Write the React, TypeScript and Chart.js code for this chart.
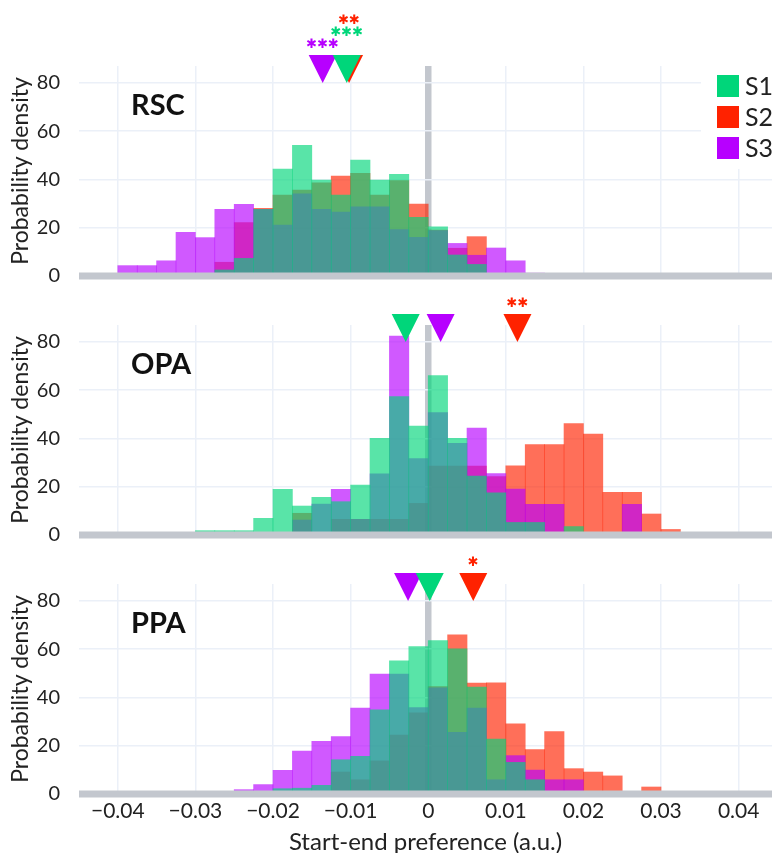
import React, { useEffect, useRef } from 'react';
import { Chart, registerables } from 'chart.js';

Chart.register(...registerables);

// Histogram bins: centres of 0.0025-wide bins from -0.04 to 0.04
const BIN_CENTERS = [
  -0.03875, -0.03625, -0.03375, -0.03125, -0.02875, -0.02625, -0.02375, -0.02125,
  -0.01875, -0.01625, -0.01375, -0.01125, -0.00875, -0.00625, -0.00375, -0.00125,
  0.00125, 0.00375, 0.00625, 0.00875, 0.01125, 0.01375, 0.01625, 0.01875,
  0.02125, 0.02375, 0.02625, 0.02875, 0.03125, 0.03375, 0.03625, 0.03875,
];

const SERIES = ['S1', 'S2', 'S3'];

// RSC
const RSC_S1 = [0, 0, 0, 0, 0, 2.5, 7.3, 27.6, 44.3, 54.1, 39.7, 33.5, 48.0, 39.7, 42.1, 24.3, 20.4, 8.7, 4.8, 0, 0, 0, 0, 0, 0, 0, 0, 0, 0, 0, 0, 0];
const RSC_S2 = [0, 0, 0, 0, 0, 5.7, 22.1, 28.0, 33.5, 35.6, 38.6, 41.4, 42.5, 33.5, 39.5, 29.8, 19.0, 11.5, 16.3, 0, 0, 0, 0, 0, 0, 0, 0, 0, 0, 0, 0, 0];
const RSC_S3 = [4.3, 4.3, 6.3, 18.1, 15.9, 27.6, 29.7, 27.6, 21.1, 34.0, 27.6, 26.5, 28.7, 28.7, 19.2, 16.0, 18.8, 13.5, 8.6, 11.6, 6.3, 1.2, 0, 0, 0, 0, 0, 0, 0, 0, 0, 0];
const RSC_MEANS = [-0.0105, -0.0102, -0.0136];
const RSC_STARS = [3, 2, 3];

// OPA
const OPA_S1 = [0, 0, 0, 0, 1.8, 1.8, 1.8, 6.9, 18.9, 12.0, 15.6, 13.8, 20.7, 40.0, 57.3, 45.1, 66.0, 40.0, 24.4, 17.5, 5.2, 5.2, 0, 3.5, 0, 0, 0, 0, 0, 0, 0, 0];
const OPA_S2 = [0, 0, 0, 0, 0, 0, 0, 0, 0, 9.0, 0, 6.5, 6.5, 6.5, 6.5, 13.1, 28.6, 28.6, 28.6, 24.2, 28.7, 37.5, 37.5, 46.2, 41.8, 17.7, 17.7, 8.7, 2.3, 0, 0, 0];
const OPA_S3 = [0, 0, 0, 0, 0, 0, 0, 0, 0, 6.2, 12.8, 18.9, 6.5, 25.3, 82.4, 31.7, 50.7, 38.0, 44.3, 25.4, 19.0, 12.7, 12.7, 0, 0, 0, 12.7, 0, 0, 0, 0, 0];
const OPA_MEANS = [-0.0029, 0.0115, 0.0016];
const OPA_STARS = [0, 2, 0];

// PPA
const PPA_S1 = [0, 0, 0, 0, 0, 0, 0, 0, 2.2, 2.4, 3.6, 14.2, 15.6, 34.9, 55.2, 61.1, 63.6, 60.1, 44.3, 22.8, 13.1, 5.9, 0, 0, 0, 0, 0, 0, 0, 0, 0, 0];
const PPA_S2 = [0, 0, 0, 0, 0, 0, 0, 0, 0, 0, 1.0, 9.1, 5.9, 13.7, 24.4, 33.6, 44.5, 65.9, 46.0, 46.1, 29.1, 18.4, 25.9, 10.5, 9.1, 7.5, 0.5, 2.9, 0, 0, 0, 0];
const PPA_S3 = [0, 0, 0, 0, 0, 0, 1.8, 3.9, 9.8, 17.8, 21.8, 23.8, 35.6, 49.7, 49.7, 35.8, 44.0, 25.6, 35.6, 5.9, 15.9, 9.9, 5.9, 5.9, 0, 0, 0, 0, 0, 0, 0, 0];
const PPA_MEANS = [0.0002, 0.0058, -0.0026];
const PPA_STARS = [0, 1, 0];

const X_TICKS_STEP = 0.01;
const Y_TICKS = [0, 20, 40, 60, 80];
const MARKER_TIP = 80;

const SOLID = ['rgb(0, 214, 122)', 'rgb(255, 34, 0)', 'rgb(183, 0, 255)'];
const FILL = ['rgba(0, 214, 122, 0.65)', 'rgba(255, 34, 0, 0.65)', 'rgba(183, 0, 255, 0.65)'];
// lower order is painted last: S1 on top, S3 in the middle, S2 underneath
const DRAW_ORDER = [0, 2, 1];

const GRID = '#ebf0f8';
const AXIS_GRAY = '#c3c7ce';
const TEXT = '#222';
const FONT = 'Lato, "Open Sans", sans-serif';

type PanelProps = {
  name: string;
  values: number[][];
  means: number[];
  stars: number[];
  top: number;
  height: number;
  padTop: number;
  padBottom: number;
  xAxis: boolean;
  legend: boolean;
};

function fmtX(v: number): string {
  if (Math.abs(v) < 1e-9) return '0';
  return (v < 0 ? '\u2212' : '') + Math.abs(v).toFixed(2);
}

function Panel(p: PanelProps) {
  const ref = useRef<HTMLCanvasElement | null>(null);

  useEffect(() => {
    const canvas = ref.current;
    if (!canvas) return;

    const overlay = {
      id: 'overlay',
      afterDatasetsDraw(chart: any) {
        const { ctx, chartArea: a, scales } = chart;
        const y0 = scales.y.getPixelForValue(0);
        ctx.save();
        ctx.strokeStyle = AXIS_GRAY;
        ctx.lineWidth = 7;
        ctx.beginPath();
        ctx.moveTo(a.left, y0);
        ctx.lineTo(a.right, y0);
        ctx.stroke();
        ctx.restore();
      },
      afterDraw(chart: any) {
        const { ctx, chartArea: a, scales } = chart;
        const xs = scales.x;
        const ys = scales.y;
        ctx.save();

        // panel name
        ctx.fillStyle = '#111';
        ctx.font = `bold 29px ${FONT}`;
        ctx.textAlign = 'left';
        ctx.textBaseline = 'alphabetic';
        ctx.fillText(p.name, a.left + 52, a.top + 49);

        // mean markers (downward triangles)
        const tipY = ys.getPixelForValue(MARKER_TIP);
        const paint = [0, 1, 2].sort((i, j) => DRAW_ORDER[j] - DRAW_ORDER[i]);
        for (const k of paint) {
          const x = xs.getPixelForValue(p.means[k]);
          ctx.fillStyle = SOLID[k];
          ctx.beginPath();
          ctx.moveTo(x, tipY);
          ctx.lineTo(x - 14, tipY - 28);
          ctx.lineTo(x + 14, tipY - 28);
          ctx.closePath();
          ctx.fill();
        }

        // significance stars, stacked when they would collide
        const byX = [0, 1, 2].sort((i, j) => p.means[i] - p.means[j]);
        let prevRight = -Infinity;
        let prevLevel = -1;
        ctx.font = `13px "DejaVu Sans", sans-serif`;
        ctx.textAlign = 'center';
        ctx.textBaseline = 'middle';
        for (const k of byX) {
          const n = p.stars[k];
          if (!n) continue;
          const x = xs.getPixelForValue(p.means[k]);
          const w = n * 11;
          const level = x - w / 2 < prevRight ? prevLevel + 1 : 0;
          prevRight = x + w / 2;
          prevLevel = level;
          ctx.fillStyle = SOLID[k];
          ctx.fillText('\u2731'.repeat(n), x, tipY - 38 - level * 12);
        }

        // legend
        if (p.legend) {
          const lx = a.right - 71;
          ctx.fillStyle = '#ffffff';
          ctx.fillRect(lx, a.top, chart.width - lx, 103);
          ctx.font = `25px ${FONT}`;
          ctx.textAlign = 'left';
          ctx.textBaseline = 'middle';
          for (let k = 0; k < 3; k++) {
            const sy = a.top + 9 + 31 * k;
            ctx.fillStyle = SOLID[k];
            ctx.fillRect(lx + 16, sy, 22, 22);
            ctx.fillStyle = TEXT;
            ctx.fillText(SERIES[k], lx + 44, sy + 12);
          }
        }
        ctx.restore();
      },
    };

    const chart = new Chart(canvas, {
      type: 'bar',
      data: {
        datasets: [0, 1, 2].map((k) => ({
          label: SERIES[k],
          data: BIN_CENTERS.map((x, i) => ({ x, y: p.values[k][i] })),
          backgroundColor: FILL[k],
          borderWidth: 0,
          grouped: false,
          barPercentage: 1,
          categoryPercentage: 1,
          order: DRAW_ORDER[k],
        })),
      } as any,
      options: {
        animation: false,
        responsive: false,
        maintainAspectRatio: false,
        events: [],
        layout: { padding: { top: p.padTop, bottom: p.padBottom, left: 0, right: 0 } },
        plugins: { legend: { display: false }, tooltip: { enabled: false } },
        scales: {
          x: {
            type: 'linear',
            min: -0.045,
            max: 0.0443,
            offset: false,
            border: { display: false },
            grid: {
              offset: false,
              drawTicks: false,
              color: (c: any) => (Math.abs(c.tick?.value ?? 1) < 1e-9 ? AXIS_GRAY : GRID),
              lineWidth: (c: any) => (Math.abs(c.tick?.value ?? 1) < 1e-9 ? 6.5 : 1.5),
            },
            ticks: {
              display: p.xAxis,
              stepSize: X_TICKS_STEP,
              includeBounds: false,
              autoSkip: false,
              maxRotation: 0,
              padding: 5,
              color: TEXT,
              font: { family: FONT, size: 21 },
              callback: (v: any) => fmtX(Number(v)),
            },
            title: {
              display: p.xAxis,
              text: 'Start-end preference (a.u.)',
              color: TEXT,
              font: { family: FONT, size: 24 },
              padding: { top: 0, bottom: 0 },
            },
            afterFit: (s: any) => {
              s.height = p.xAxis ? 63 : 0;
            },
          },
          y: {
            min: 0,
            max: 87,
            border: { display: false },
            grid: {
              drawTicks: false,
              color: (c: any) => (c.tick?.value === 0 ? 'rgba(0,0,0,0)' : GRID),
              lineWidth: 1.5,
            },
            afterBuildTicks: (s: any) => {
              s.ticks = Y_TICKS.map((v) => ({ value: v }));
            },
            ticks: {
              padding: 19,
              color: TEXT,
              font: { family: FONT, size: 20 },
            },
            title: {
              display: true,
              text: 'Probability density',
              color: TEXT,
              font: { family: FONT, size: 23 },
              padding: { top: 7, bottom: 0 },
            },
            afterFit: (s: any) => {
              s.width = 79;
              s.paddingTop = 12;
              s.paddingBottom = 12;
            },
          },
        },
      } as any,
      plugins: [overlay],
    });

    return () => chart.destroy();
  }, []);

  return (
    <canvas
      ref={ref}
      width={772}
      height={p.height}
      style={{ position: 'absolute', left: 0, top: p.top, display: 'block' }}
    />
  );
}

export default function App() {
  return (
    <div style={{ position: 'absolute', left: 0, top: 0, width: 772, height: 853, background: '#fff', overflow: 'hidden' }}>
      <Panel name="RSC" values={[RSC_S1, RSC_S2, RSC_S3]} means={RSC_MEANS} stars={RSC_STARS}
        top={0} height={290} padTop={66} padBottom={14} xAxis={false} legend={true} />
      <Panel name="OPA" values={[OPA_S1, OPA_S2, OPA_S3]} means={OPA_MEANS} stars={OPA_STARS}
        top={290} height={259} padTop={35} padBottom={14} xAxis={false} legend={false} />
      <Panel name="PPA" values={[PPA_S1, PPA_S2, PPA_S3]} means={PPA_MEANS} stars={PPA_STARS}
        top={549} height={308} padTop={35} padBottom={0} xAxis={true} legend={false} />
    </div>
  );
}
